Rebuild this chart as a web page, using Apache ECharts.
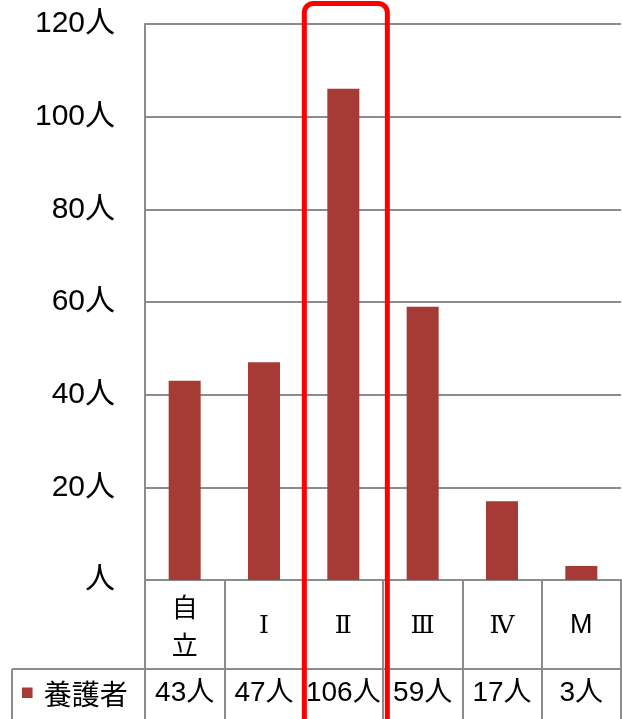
<!DOCTYPE html>
<html>
<head>
<meta charset="utf-8">
<script src="https://cdn.jsdelivr.net/npm/echarts@6/dist/echarts.min.js"></script>
<style>
  html, body { margin: 0; padding: 0; background: #fff; }
  #chart { width: 622px; height: 719px; }
</style>
</head>
<body>
<div id="chart"></div>
<script>
// 要介護度別の人数（養護者）
const categories = ['自\n立', 'Ⅰ', 'Ⅱ', 'Ⅲ', 'Ⅳ', 'M'];
const seriesName = '養護者';
const values = [43, 47, 106, 59, 17, 3];
const yTicks = [0, 20, 40, 60, 80, 100, 120];
const highlighted = 'Ⅱ';

const FONT = '"Liberation Sans", "Noto Sans CJK JP", sans-serif';
const CJK = '"Noto Sans CJK JP", "Liberation Sans", sans-serif';
const SERIF = '"DejaVu Serif", "Noto Sans CJK JP", serif';
const GRAY = '#8c8c8c';
const BAR = '#a63a35';

// table geometry
const GRID_LEFT = 145, GRID_RIGHT = 1, GRID_TOP = 24, GRID_BOTTOM = 139;
const H = 719, W = 622;
const axisY = H - GRID_BOTTOM;        // baseline of the plot
const valueRowTop = 669;              // line between the category row and the value row
const tableLeft = 12;                 // left edge of the legend cell

const chart = echarts.init(document.getElementById('chart'), null, { renderer: 'canvas' });

// roman numerals are set in a serif face, kanji in CJK gothic, latin in sans
const labelStyle = v => {
  if (/^[\u2160-\u216F]+$/.test(v)) return 'r';
  if (/^[A-Za-z]+$/.test(v)) return 'l';
  return 'k';
};

chart.setOption({
  animation: false,
  backgroundColor: '#fff',
  textStyle: { fontFamily: FONT },
  grid: { left: GRID_LEFT, right: GRID_RIGHT, top: GRID_TOP, bottom: GRID_BOTTOM, containLabel: false },
  legend: {
    data: [seriesName],
    left: 17,
    top: 678,
    // square marker sitting slightly above the text's centre line
    icon: 'path://M0,0H10V10H0Z M0,18H10',
    itemWidth: 11,
    itemHeight: 19,
    itemGap: 0,
    itemStyle: { borderWidth: 0 },
    textStyle: { fontSize: 28, color: '#000', fontFamily: FONT, padding: [0, 0, 0, 6] }
  },
  xAxis: [
    {
      type: 'category',
      data: categories,
      position: 'bottom',
      axisLine: { show: true, lineStyle: { color: GRAY, width: 2 } },
      axisTick: { show: true, alignWithLabel: false, interval: 0, length: H - axisY, lineStyle: { color: GRAY, width: 2 } },
      axisLabel: {
        interval: 0, margin: 46, verticalAlign: 'middle',
        fontSize: 26, color: '#000', fontFamily: CJK,
        formatter: v => v.split('\n').map(part => '{' + labelStyle(part) + '|' + part + '}').join('\n'),
        rich: {
          k: { fontFamily: CJK, fontSize: 26, lineHeight: 38, color: '#000' },
          r: { fontFamily: SERIF, fontSize: 25, lineHeight: 38, color: '#000' },
          l: { fontFamily: FONT, fontSize: 27, lineHeight: 38, color: '#000' }
        }
      },
      splitLine: { show: false }
    },
    {
      type: 'category',
      data: categories,
      position: 'bottom',
      offset: 0,
      axisLine: { show: false },
      axisTick: { show: false },
      axisLabel: {
        interval: 0, margin: 113, verticalAlign: 'middle',
        fontSize: 28, color: '#000', fontFamily: FONT,
        formatter: (v, i) => values[i] + '人'
      },
      splitLine: { show: false }
    }
  ],
  yAxis: {
    type: 'value',
    min: yTicks[0],
    max: yTicks[yTicks.length - 1],
    interval: yTicks[1] - yTicks[0],
    axisLine: { show: true, lineStyle: { color: GRAY, width: 2 } },
    axisTick: { show: false },
    splitLine: { show: true, lineStyle: { color: GRAY, width: 2 } },
    axisLabel: {
      margin: 30, fontSize: 30, color: '#000', fontFamily: FONT,
      formatter: v => (v === 0 ? '人' : v + '人')
    }
  },
  series: [
    {
      name: seriesName,
      type: 'bar',
      data: values,
      barWidth: 32,
      itemStyle: { color: BAR },
      xAxisIndex: 0
    }
  ]
});

// table borders and the highlight frame around one category
function drawOverlay() {
  const cx = chart.convertToPixel({ xAxisIndex: 0 }, highlighted);
  const frameW = 83;
  chart.setOption({
    graphic: [
      {
        type: 'line', z: 50,
        shape: { x1: tableLeft, y1: valueRowTop, x2: W - GRID_RIGHT, y2: valueRowTop },
        style: { stroke: GRAY, lineWidth: 2 }
      },
      {
        type: 'line', z: 50,
        shape: { x1: tableLeft, y1: valueRowTop, x2: tableLeft, y2: H + 5 },
        style: { stroke: GRAY, lineWidth: 2 }
      },
      {
        type: 'rect', z: 100,
        shape: { x: cx + 2.5 - frameW / 2, y: 3.5, width: frameW, height: H + 40, r: 9 },
        style: { fill: 'none', stroke: '#ff0000', lineWidth: 5 }
      }
    ]
  });
}
drawOverlay();
</script>
</body>
</html>
